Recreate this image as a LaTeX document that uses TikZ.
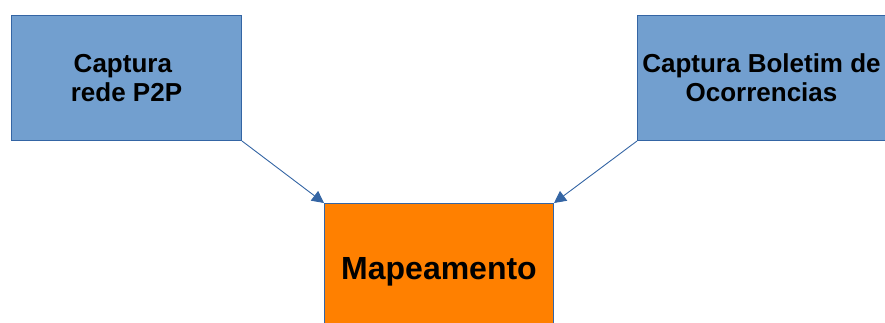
\documentclass[tikz,border=0pt]{standalone}
\usepackage{fontspec}
\setmainfont{Liberation Sans}
\usetikzlibrary{arrows.meta}
\definecolor{boxblue}{HTML}{729FCF}
\definecolor{edgeblue}{HTML}{3465A4}
\definecolor{maporange}{HTML}{FF8000}
\tikzset{
  block/.style={draw=edgeblue, line width=1pt, rectangle, anchor=north west,
    inner sep=0pt, align=center, text=black,
    font=\bfseries\fontsize{26}{29}\selectfont},
  inputbox/.style={block, fill=boxblue},
  mapbox/.style={block, fill=maporange, font=\bfseries\fontsize{32}{36}\selectfont},
  flow/.style={draw=edgeblue, line width=0.9pt, -{Triangle[length=12pt,width=12pt]}}
}
\begin{document}
\begin{tikzpicture}[x=1pt,y=-1pt]
  \useasboundingbox (0,0) rectangle (885,322);
  \clip (0,0) rectangle (885,322);
  % two capture stages feeding the mapping stage
  \node[inputbox, minimum width=230pt, minimum height=125pt] (p2p) at (11,15)
    {Captura\hspace*{0.28em}\\rede P2P};
  \node[inputbox, minimum width=248pt, minimum height=125pt] (bo) at (637,15)
    {Captura Boletim de\\Ocorrencias};
  \node[mapbox, minimum width=229pt, minimum height=136pt] (map) at (324,203)
    {Mapeamento};
  \draw[flow] (p2p.south east) -- (map.north west);
  \draw[flow] (bo.south west) -- (map.north east);
\end{tikzpicture}
\end{document}
